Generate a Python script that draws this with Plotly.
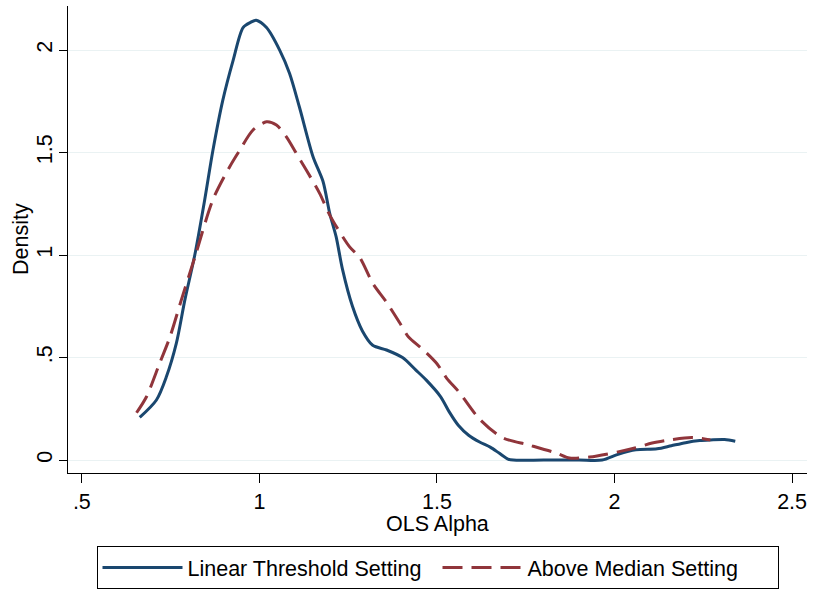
import plotly.graph_objects as go

# Linear Threshold Setting (solid blue)
lin_x = [0.663, 0.71, 0.738, 0.766, 0.79, 0.818, 0.846, 0.869, 0.897, 0.926, 0.954, 0.975,
         0.991, 1.02, 1.057, 1.085, 1.113, 1.151, 1.179, 1.198, 1.216, 1.234, 1.262, 1.29,
         1.319, 1.358, 1.403, 1.44, 1.47, 1.51, 1.535, 1.56, 1.59, 1.62, 1.65, 1.675, 1.70,
         1.715, 1.80, 1.90, 1.965, 2.01, 2.06, 2.12, 2.16, 2.20, 2.24, 2.27, 2.31, 2.34]
lin_y = [0.208, 0.293, 0.406, 0.569, 0.78, 1.0, 1.27, 1.51, 1.756, 1.95, 2.11, 2.135,
         2.146, 2.11, 2.0, 1.886, 1.72, 1.48, 1.36, 1.203, 1.09, 0.93, 0.75, 0.63,
         0.56, 0.537, 0.50, 0.44, 0.39, 0.31, 0.234, 0.17, 0.12, 0.088, 0.063, 0.034, 0.005,
         0.0, 0.0, 0.0, 0.0, 0.028, 0.05, 0.055, 0.07, 0.085, 0.095, 0.098, 0.10, 0.092]

# Above Median Setting (dashed red)
med_x = [0.654, 0.682, 0.719, 0.748, 0.78, 0.82, 0.869, 0.916, 0.944, 0.982, 1.02, 1.048,
         1.076, 1.104, 1.132, 1.17, 1.198, 1.254, 1.282, 1.32, 1.358, 1.395, 1.42, 1.46,
         1.50, 1.527, 1.563, 1.62, 1.684, 1.76, 1.836, 1.873, 1.93, 2.01, 2.06, 2.106,
         2.162, 2.219, 2.27]
med_y = [0.231, 0.309, 0.472, 0.60, 0.78, 1.0, 1.27, 1.43, 1.51, 1.61, 1.65, 1.634,
         1.577, 1.496, 1.415, 1.30, 1.195, 1.04, 0.99, 0.86, 0.77, 0.67, 0.60, 0.54,
         0.47, 0.40, 0.33, 0.20, 0.11, 0.073, 0.034, 0.01, 0.015, 0.04, 0.06, 0.083,
         0.10, 0.11, 0.098]

x_ticks = [0.5, 1, 1.5, 2, 2.5]
x_labels = [".5", "1", "1.5", "2", "2.5"]
y_ticks = [0, 0.5, 1, 1.5, 2]
y_labels = ["0", ".5", "1", "1.5", "2"]
x_title = "OLS Alpha"
y_title = "Density"

FONT = "Liberation Sans, Arial, sans-serif"
FS = 21.5

fig = go.Figure()
fig.add_trace(go.Scatter(x=lin_x, y=lin_y, mode="lines", name="Linear Threshold Setting",
                         line=dict(color="#1a476f", width=3, shape="spline", smoothing=0.8)))
fig.add_trace(go.Scatter(x=med_x, y=med_y, mode="lines", name="Above Median Setting",
                         line=dict(color="#90353b", width=3, dash="20px,9px",
                                   shape="spline", smoothing=0.8)))

fig.update_layout(
    width=815, height=590,
    margin=dict(l=68, r=8, t=6, b=117, autoexpand=False),
    paper_bgcolor="white", plot_bgcolor="white",
    font=dict(family=FONT, size=FS, color="black"),
    showlegend=True,
    legend=dict(orientation="h", x=0.5, xanchor="center",
                yref="container", y=1 - 546 / 590, yanchor="top",
                bordercolor="black", borderwidth=1, font=dict(size=FS),
                bgcolor="white", itemwidth=80, entrywidth=245, entrywidthmode="pixels"),
    xaxis=dict(range=[0.461, 2.542], tickvals=x_ticks, ticktext=x_labels,
               showgrid=False, zeroline=False, showline=True, linecolor="black",
               linewidth=1, ticks="outside", ticklen=9, tickcolor="black"),
    yaxis=dict(range=[-0.063, 2.215], tickvals=y_ticks, ticktext=y_labels,
               tickangle=-90, showgrid=True, gridcolor="#eaf2f3", gridwidth=1,
               zeroline=False, showline=True, linecolor="black", linewidth=1,
               ticks="outside", ticklen=8, tickcolor="black", ticklabelstandoff=-2),
    annotations=[
        dict(text=x_title, xref="paper", yref="paper", x=0.5, y=-0.109,
             xanchor="center", yanchor="middle", showarrow=False,
             font=dict(size=FS)),
        dict(text=y_title, xref="paper", yref="paper", x=-0.0642, y=0.5,
             xanchor="center", yanchor="middle", textangle=-90, showarrow=False,
             font=dict(size=FS)),
    ],
)

fig.write_html("out.html")
